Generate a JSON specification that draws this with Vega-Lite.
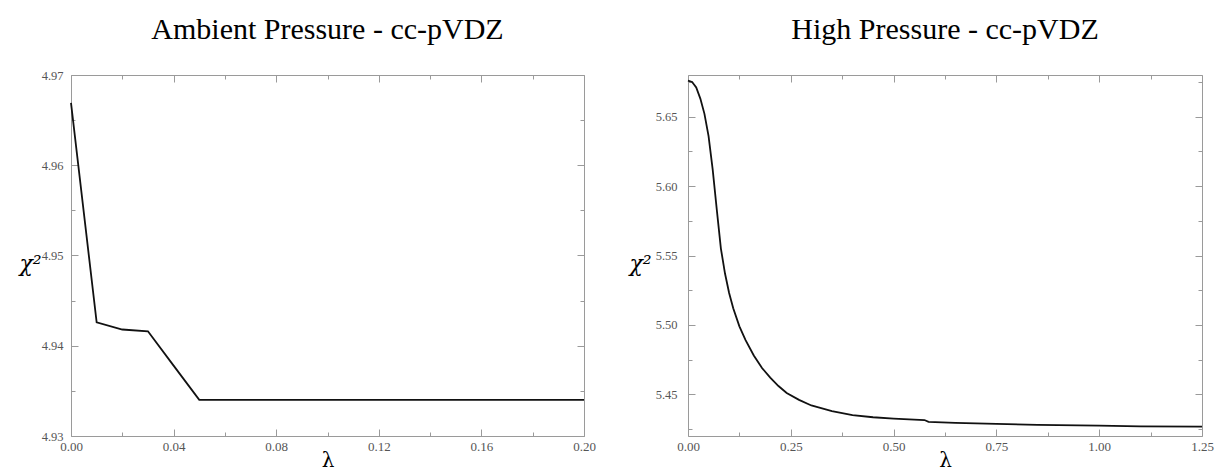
{
  "$schema": "https://vega.github.io/schema/vega-lite/v6.json",
  "background": "white",
  "padding": {"left": 18, "top": 14, "right": 5, "bottom": 0},
  "bounds": "flush",
  "config": {
    "view": {"stroke": null},
    "font": "Liberation Serif",
    "axis": {
      "domainColor": "#9a9a9a",
      "tickColor": "#9a9a9a",
      "labelFont": "Liberation Serif",
      "labelFontSize": 12.5,
      "labelColor": "#555555",
      "grid": false,
      "labelFlush": false,
      "labelOverlap": false,
      "titleFont": "DejaVu Serif",
      "titleFontWeight": "normal",
      "titleColor": "#000000"
    },
    "title": {"font": "Liberation Serif", "fontSize": 30, "fontWeight": "normal", "color": "#000000"}
  },
  "spacing": 104,
  "hconcat": [
    {
      "title": {"text": "Ambient Pressure - cc-pVDZ", "offset": 24},
      "width": 513,
      "height": 361,
      "data": {"values": [
        {"lambda": 0.00, "chi2": 4.9669},
        {"lambda": 0.01, "chi2": 4.9426},
        {"lambda": 0.02, "chi2": 4.9418},
        {"lambda": 0.03, "chi2": 4.9416},
        {"lambda": 0.04, "chi2": 4.9378},
        {"lambda": 0.05, "chi2": 4.9340},
        {"lambda": 0.06, "chi2": 4.9340},
        {"lambda": 0.08, "chi2": 4.9340},
        {"lambda": 0.10, "chi2": 4.9340},
        {"lambda": 0.12, "chi2": 4.9340},
        {"lambda": 0.14, "chi2": 4.9340},
        {"lambda": 0.16, "chi2": 4.9340},
        {"lambda": 0.18, "chi2": 4.9340},
        {"lambda": 0.20, "chi2": 4.9340}
      ]},
      "layer": [
        {
          "mark": {"type": "line", "color": "#111111", "strokeWidth": 1.8},
          "encoding": {
            "x": {"field": "lambda", "type": "quantitative",
              "scale": {"domain": [0, 0.2], "nice": false, "zero": false},
              "axis": {"orient": "bottom",
                "values": [0, 0.02, 0.04, 0.06, 0.08, 0.10, 0.12, 0.14, 0.16, 0.18, 0.20],
                "tickSize": {"condition": {"test": "round(datum.value*100) % 4 == 0", "value": -7}, "value": -4},
                "labelExpr": "round(datum.value*100) % 4 == 0 ? format(datum.value, '.2f') : ''",
                "labelFontSize": 13,
                "labelPadding": 11, "title": "λ", "titleFontSize": 20, "titlePadding": -6}},
            "y": {"field": "chi2", "type": "quantitative",
              "scale": {"domain": [4.93, 4.97], "nice": false, "zero": false},
              "axis": {"orient": "left",
                "values": [4.93, 4.935, 4.94, 4.945, 4.95, 4.955, 4.96, 4.965, 4.97],
                "tickSize": {"condition": {"test": "round(datum.value*1000) % 10 == 0", "value": -7}, "value": -4},
                "labelExpr": "round(datum.value*1000) % 10 == 0 ? format(datum.value, '.2f') : ''",
                "labelPadding": 15, "title": "χ²", "titleFontSize": 22, "titleFontStyle": "italic", "titleAngle": 0,
                "titleAlign": "center", "titleBaseline": "middle", "titleX": -41, "titleY": 188}}
          }
        },
        {
          "mark": {"type": "line", "strokeOpacity": 0},
          "encoding": {
            "x": {"field": "lambda", "type": "quantitative",
              "scale": {"domain": [0, 0.2], "nice": false, "zero": false},
              "axis": {"orient": "top", "labels": false, "title": null,
                "values": [0, 0.02, 0.04, 0.06, 0.08, 0.10, 0.12, 0.14, 0.16, 0.18, 0.20],
                "tickSize": {"condition": {"test": "round(datum.value*100) % 4 == 0", "value": -7}, "value": -4}}},
            "y": {"field": "chi2", "type": "quantitative",
              "scale": {"domain": [4.93, 4.97], "nice": false, "zero": false},
              "axis": {"orient": "right", "labels": false, "title": null,
                "values": [4.93, 4.935, 4.94, 4.945, 4.95, 4.955, 4.96, 4.965, 4.97],
                "tickSize": {"condition": {"test": "round(datum.value*1000) % 10 == 0", "value": -7}, "value": -4}}}
          }
        }
      ],
      "resolve": {"axis": {"x": "independent", "y": "independent"}}
    },
    {
      "title": {"text": "High Pressure - cc-pVDZ", "offset": 30},
      "width": 514,
      "height": 361,
      "data": {"values": [
        {"lambda": 0.00, "chi2": 5.676},
        {"lambda": 0.01, "chi2": 5.675},
        {"lambda": 0.02, "chi2": 5.671},
        {"lambda": 0.03, "chi2": 5.663},
        {"lambda": 0.04, "chi2": 5.652},
        {"lambda": 0.05, "chi2": 5.636},
        {"lambda": 0.06, "chi2": 5.612},
        {"lambda": 0.07, "chi2": 5.583},
        {"lambda": 0.08, "chi2": 5.555},
        {"lambda": 0.09, "chi2": 5.537},
        {"lambda": 0.10, "chi2": 5.523},
        {"lambda": 0.11, "chi2": 5.512},
        {"lambda": 0.125, "chi2": 5.499},
        {"lambda": 0.14, "chi2": 5.489},
        {"lambda": 0.16, "chi2": 5.478},
        {"lambda": 0.18, "chi2": 5.469},
        {"lambda": 0.20, "chi2": 5.462},
        {"lambda": 0.22, "chi2": 5.456},
        {"lambda": 0.24, "chi2": 5.451},
        {"lambda": 0.27, "chi2": 5.446},
        {"lambda": 0.30, "chi2": 5.442},
        {"lambda": 0.35, "chi2": 5.438},
        {"lambda": 0.40, "chi2": 5.435},
        {"lambda": 0.45, "chi2": 5.4335},
        {"lambda": 0.50, "chi2": 5.4325},
        {"lambda": 0.55, "chi2": 5.4318},
        {"lambda": 0.575, "chi2": 5.4315},
        {"lambda": 0.585, "chi2": 5.4302},
        {"lambda": 0.65, "chi2": 5.4295},
        {"lambda": 0.75, "chi2": 5.4288},
        {"lambda": 0.85, "chi2": 5.4280},
        {"lambda": 1.00, "chi2": 5.4275},
        {"lambda": 1.10, "chi2": 5.4270},
        {"lambda": 1.25, "chi2": 5.4268}
      ]},
      "layer": [
        {
          "mark": {"type": "line", "color": "#111111", "strokeWidth": 1.8},
          "encoding": {
            "x": {"field": "lambda", "type": "quantitative",
              "scale": {"domain": [0, 1.25], "nice": false, "zero": false},
              "axis": {"orient": "bottom",
                "values": [0, 0.125, 0.25, 0.375, 0.5, 0.625, 0.75, 0.875, 1.0, 1.125, 1.25],
                "tickSize": {"condition": {"test": "round(datum.value*1000) % 250 == 0", "value": -7}, "value": -4},
                "labelExpr": "round(datum.value*1000) % 250 == 0 ? format(datum.value, '.2f') : ''",
                "labelFontSize": 13,
                "labelPadding": 11, "title": "λ", "titleFontSize": 20, "titlePadding": -6}},
            "y": {"field": "chi2", "type": "quantitative",
              "scale": {"domain": [5.42, 5.68], "nice": false, "zero": false},
              "axis": {"orient": "left",
                "values": [5.425, 5.45, 5.475, 5.5, 5.525, 5.55, 5.575, 5.6, 5.625, 5.65, 5.675],
                "tickSize": {"condition": {"test": "round(datum.value*1000) % 50 == 0", "value": -7}, "value": -4},
                "labelExpr": "round(datum.value*1000) % 50 == 0 ? format(datum.value, '.2f') : ''",
                "labelPadding": 18, "title": "χ²", "titleFontSize": 22, "titleFontStyle": "italic", "titleAngle": 0,
                "titleAlign": "center", "titleBaseline": "middle", "titleX": -48, "titleY": 188}}
          }
        },
        {
          "mark": {"type": "line", "strokeOpacity": 0},
          "encoding": {
            "x": {"field": "lambda", "type": "quantitative",
              "scale": {"domain": [0, 1.25], "nice": false, "zero": false},
              "axis": {"orient": "top", "labels": false, "title": null,
                "values": [0, 0.125, 0.25, 0.375, 0.5, 0.625, 0.75, 0.875, 1.0, 1.125, 1.25],
                "tickSize": {"condition": {"test": "round(datum.value*1000) % 250 == 0", "value": -7}, "value": -4}}},
            "y": {"field": "chi2", "type": "quantitative",
              "scale": {"domain": [5.42, 5.68], "nice": false, "zero": false},
              "axis": {"orient": "right", "labels": false, "title": null,
                "values": [5.425, 5.45, 5.475, 5.5, 5.525, 5.55, 5.575, 5.6, 5.625, 5.65, 5.675],
                "tickSize": {"condition": {"test": "round(datum.value*1000) % 50 == 0", "value": -7}, "value": -4}}}
          }
        }
      ],
      "resolve": {"axis": {"x": "independent", "y": "independent"}}
    }
  ]
}
